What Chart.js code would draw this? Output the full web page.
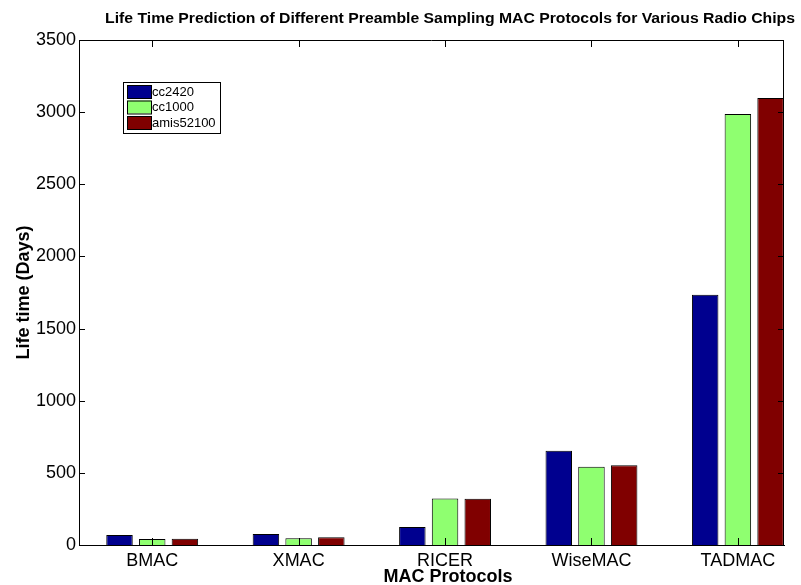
<!DOCTYPE html>
<html>
<head>
<meta charset="utf-8">
<script src="https://cdn.jsdelivr.net/npm/chart.js@4/dist/chart.umd.min.js"></script>
<style>
  html, body { margin: 0; padding: 0; background: #fff; }
  #wrap { width: 801px; height: 585px; }
</style>
</head>
<body>
<div id="wrap"><canvas id="lifetime-chart"></canvas></div>
<script>
const protocols = ['BMAC', 'XMAC', 'RICER', 'WiseMAC', 'TADMAC'];
const chips = ['cc2420', 'cc1000', 'amis52100'];
const cc2420 = [69, 76, 125, 653, 1735];
const cc1000 = [42, 46, 323, 543, 2987];
const amis52100 = [44, 53, 320, 552, 3098];
const yTicks = [0, 500, 1000, 1500, 2000, 2500, 3000, 3500];
const colors = ['#00008f', '#8fff70', '#800000'];

const FONT = 'Liberation Sans, Arial, Helvetica, sans-serif';
const TITLE = 'Life Time Prediction of Different Preamble Sampling MAC Protocols for Various Radio Chips';
const series = [cc2420, cc1000, amis52100];

// matlab-ish box, inward ticks, titles and legend inside the axes
const boxPlugin = {
  id: 'box',
  afterDraw(chart) {
    const { ctx, chartArea: a, scales } = chart;
    ctx.save();
    ctx.strokeStyle = '#000';
    ctx.lineWidth = 1;
    ctx.beginPath();
    ctx.moveTo(a.left, a.top + 0.5); ctx.lineTo(a.right, a.top + 0.5);
    ctx.moveTo(a.right - 0.5, a.top); ctx.lineTo(a.right - 0.5, a.bottom);
    yTicks.forEach(v => {
      const y = Math.round(scales.y.getPixelForValue(v)) + 0.5;
      ctx.moveTo(a.left, y); ctx.lineTo(a.left + 6, y);
      ctx.moveTo(a.right, y); ctx.lineTo(a.right - 6, y);
    });
    protocols.forEach((p, i) => {
      const x = Math.round(scales.x.getPixelForValue(i + 1)) + 0.5;
      ctx.moveTo(x, a.top); ctx.lineTo(x, a.top + 7);
      ctx.moveTo(x, a.bottom); ctx.lineTo(x, a.bottom - 7);
    });
    ctx.stroke();

    // condensed bold title
    ctx.fillStyle = '#000';
    ctx.font = 'bold 14px ' + FONT;
    ctx.textAlign = 'center';
    ctx.textBaseline = 'middle';
    const w = ctx.measureText(TITLE).width;
    ctx.save();
    ctx.translate(450, 19);
    ctx.scale(690 / w, 1);
    ctx.fillText(TITLE, 0, 0);
    ctx.restore();

    // x axis title
    ctx.font = 'bold 18px ' + FONT;
    ctx.fillText('MAC Protocols', 448, 577);

    // legend
    const lx = 123, ly = 82, lw = 97, lh = 51;
    ctx.fillStyle = '#fff';
    ctx.fillRect(lx, ly, lw, lh);
    ctx.strokeRect(lx + 0.5, ly + 0.5, lw, lh);
    ctx.font = '13px ' + FONT;
    ctx.textAlign = 'left';
    chart.data.datasets.forEach((ds, i) => {
      const yy = ly + 3 + i * 15.5;
      ctx.fillStyle = ds.backgroundColor;
      ctx.fillRect(lx + 4, yy, 24, 13);
      ctx.strokeRect(lx + 4.5, yy + 0.5, 24, 13);
      ctx.fillStyle = '#000';
      ctx.fillText(ds.label, lx + 29, yy + 7);
    });
    ctx.restore();
  }
};

new Chart(document.getElementById('lifetime-chart'), {
  type: 'bar',
  data: {
    datasets: chips.map((c, i) => ({
      label: c,
      data: series[i].map((v, j) => ({ x: j + 1, y: v })),
      backgroundColor: colors[i],
      borderColor: '#000',
      borderWidth: 1,
      categoryPercentage: 0.67,
      barPercentage: 0.81
    }))
  },
  options: {
    responsive: true,
    maintainAspectRatio: false,
    animation: false,
    layout: { padding: { left: 0, right: 17, top: 40, bottom: 0 } },
    plugins: { legend: { display: false }, tooltip: { enabled: false }, title: { display: false } },
    scales: {
      x: {
        type: 'linear',
        offset: false,
        min: 0.5,
        max: 5.315,
        afterBuildTicks: s => { s.ticks = protocols.map((p, i) => ({ value: i + 1 })); },
        afterFit: s => { s.height = 40; },
        grid: { display: false, drawTicks: false, tickLength: 0 },
        border: { display: true, color: '#000', width: 1 },
        ticks: {
          callback: v => protocols[v - 1],
          color: '#000',
          font: { family: FONT, size: 18 },
          padding: 5,
          maxRotation: 0
        }
      },
      y: {
        min: 0,
        max: 3500,
        afterBuildTicks: s => { s.ticks = yTicks.map(v => ({ value: v })); },
        afterFit: s => { s.width = 79; },
        grid: { display: false, drawTicks: false, tickLength: 0 },
        border: { display: true, color: '#000', width: 1 },
        ticks: {
          callback: v => String(v),
          color: '#000',
          font: { family: FONT, size: 18 },
          padding: 3
        },
        title: {
          display: true,
          text: 'Life time (Days)',
          color: '#000',
          font: { family: FONT, size: 18, weight: 'bold', lineHeight: 1 },
          padding: { top: 15, bottom: 0 }
        }
      }
    }
  },
  plugins: [boxPlugin]
});
</script>
</body>
</html>
